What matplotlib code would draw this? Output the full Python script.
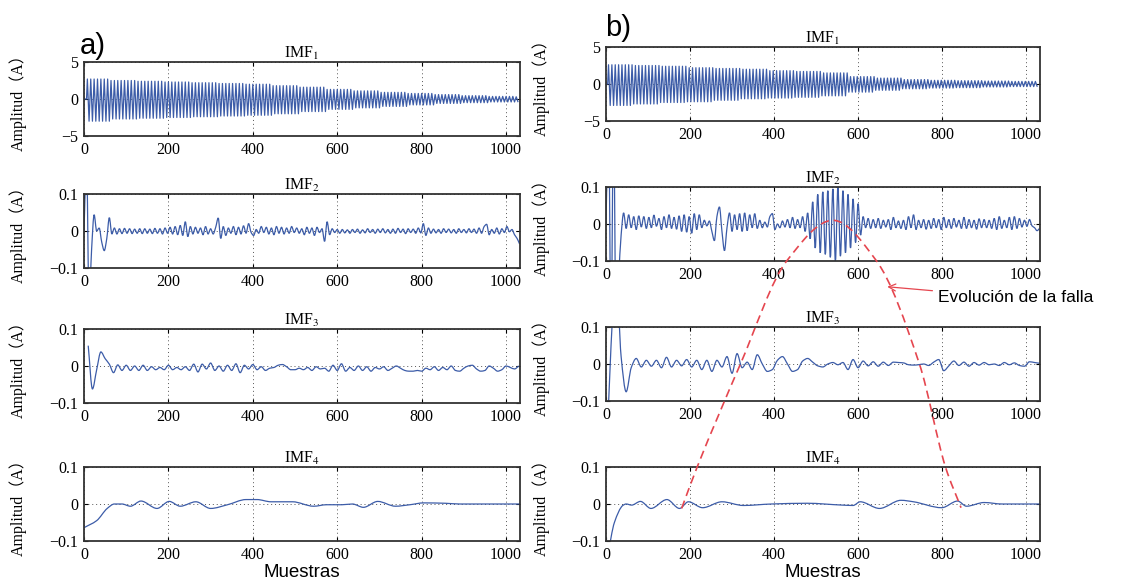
import numpy as np
import matplotlib
matplotlib.use('Agg')
import matplotlib.pyplot as plt
from matplotlib.path import Path
from matplotlib.patches import PathPatch

# ---------------- data ----------------
xticks = [0, 200, 400, 600, 800, 1000]
n_samples = 1033

# IMF1: envelope of the oscillation, one value per block of 64 samples
imf1_a_up = [2.7, 2.5, 2.4, 2.3, 2.2, 2.1, 2.0, 1.8, 1.6, 1.3, 1.1, 0.9, 0.75, 0.6, 0.45, 0.35, 0.3]
imf1_a_lo = [3.0, 2.7, 2.6, 2.5, 2.4, 2.3, 2.2, 2.0, 1.7, 1.4, 1.2, 1.0, 0.8, 0.6, 0.5, 0.4, 0.35]
imf1_b_up = [2.6, 2.5, 2.4, 2.2, 2.1, 2.0, 1.8, 1.7, 1.5, 1.0, 0.8, 0.6, 0.5, 0.45, 0.4, 0.35, 0.3]
imf1_b_lo = [2.9, 2.7, 2.5, 2.4, 2.2, 2.0, 1.9, 1.8, 1.6, 1.1, 0.85, 0.65, 0.55, 0.5, 0.4, 0.35, 0.3]
imf1_half_period = 4
imf1_block = 64

# IMF2: values every 6 samples
imf2_step = 6
imf2_a = [0.0, 0.2, -0.2, -0.05, 0.044, 0.0, 0.008, -0.03, -0.053, -0.02, 0.036, -0.008,
          0.008, -0.008, 0.006, -0.007, 0.007, -0.006, 0.006, -0.007, 0.005, -0.006, 0.006,
          -0.007, 0.006, -0.006, 0.005, -0.007, 0.007, -0.006, 0.006, -0.008, 0.008, -0.006,
          0.010, -0.008, 0.012, -0.010, 0.015, -0.012, 0.025, -0.015, 0.012, -0.008,
          0.010, -0.006, 0.008, -0.010, 0.012, -0.008, 0.006, -0.008, 0.010,
          0.035, -0.02, 0.012, -0.012, 0.008, -0.006, 0.012, -0.01, 0.01, -0.008, 0.014, -0.006, 0.02, -0.004,
          -0.012, 0.004, -0.006, 0.012, -0.004, 0.01, -0.008, 0.008, -0.01, 0.012, -0.006,
          0.01, -0.008, 0.008, -0.006, 0.012, -0.004, 0.008, -0.006, 0.006, -0.01, 0.01, -0.006,
          0.008, -0.012, 0.01, -0.004, 0.006, -0.028,
          0.025, -0.01, 0.006, -0.004, 0.004,
          -0.006, 0.004, -0.005, 0.003, -0.006, 0.004, -0.004, 0.005, -0.006, 0.003, -0.005,
          0.006, -0.004, 0.004, -0.006, 0.005, -0.004, 0.006, -0.005, 0.004, -0.006, 0.005,
          -0.006, 0.007, -0.004, 0.005, -0.007, 0.006, -0.004, 0.005, -0.006, 0.008, -0.005,
          0.02, -0.012, 0.008, -0.006,
          0.005, -0.005, 0.004, -0.006, 0.006, -0.004, 0.005, -0.005, 0.004, -0.006,
          0.006, -0.004, 0.004, -0.005, 0.006, -0.004, 0.005, -0.006, 0.008, -0.006,
          0.012, 0.018, -0.01, 0.004, -0.006, 0.008, -0.008, 0.006, -0.004, 0.012, -0.002,
          0.004, -0.01, -0.02, -0.035]
imf2_b = [0.0, 0.3, -0.3, 0.3, -0.3, -0.15, -0.03, 0.03,
          -0.012, 0.025, -0.01, 0.02, -0.015, 0.022, -0.008, 0.02, -0.012, 0.018, -0.01, 0.024,
          -0.006, 0.015, -0.015, 0.02, -0.01, 0.025, -0.012, 0.018, -0.014, 0.022, -0.02, 0.025,
          -0.022, 0.02, -0.025, 0.028, -0.015, 0.025, -0.01, 0.01, -0.005, 0.008,
          -0.02, -0.045, 0.02, 0.046, -0.02, -0.072, -0.01, 0.03, -0.02, 0.025, -0.015, 0.028,
          -0.02, 0.03, -0.018, 0.025, -0.01, 0.028, -0.012, 0.01, -0.01, 0.005, -0.008, 0.02,
          0.028, -0.015, 0.0, -0.01, 0.008, -0.008, 0.012, -0.01, 0.018, -0.012,
          0.012, -0.01, 0.02, -0.02, 0.03, -0.04, 0.06, -0.065, 0.08, -0.078, 0.087, -0.082,
          0.09, -0.09, 0.095, -0.1, 0.1, -0.087, 0.09, -0.078, 0.08, -0.065, 0.068, -0.05,
          0.055, -0.03, 0.02, -0.01,
          0.015, -0.012, 0.012, -0.01, 0.015, -0.012, 0.01, -0.008, 0.012, -0.015, 0.018, -0.01,
          0.008, -0.012, 0.01, -0.015, 0.02, -0.01, 0.025, -0.015, 0.01, -0.01, 0.012, -0.014,
          0.01, -0.012, 0.015, -0.01, 0.012, -0.015, 0.018, -0.01, 0.012, -0.012, 0.015, -0.008,
          0.01, -0.012, 0.018, -0.012, 0.012, -0.01, 0.01, -0.014, 0.014, -0.01, 0.012, -0.01,
          0.01, -0.012, 0.015, -0.015, 0.02, -0.012, 0.01, -0.01, 0.018, -0.015, 0.02, -0.012,
          0.015, -0.008, 0.01, -0.006, 0.012, -0.005, -0.01, -0.018, -0.012]

# IMF3: values every 10 (a) / 12 (b) samples
imf3_a_start, imf3_a_step = 10, 10
imf3_a = [0.055, -0.062, -0.01, 0.038, 0.02, 0.005, -0.018, 0.003, -0.012, 0.002, -0.012, 0.0,
          -0.012, 0.002, -0.012, -0.002, -0.01, -0.004, -0.01, 0.002, -0.01, -0.004, -0.01,
          -0.002, -0.012, 0.005, -0.016, 0.005, -0.008, 0.008, -0.012, 0.0, -0.014, 0.002,
          -0.012, 0.006, -0.018, 0.002, -0.008, 0.004, -0.01, -0.002, -0.012, -0.006, -0.004,
          0.002, 0.004, -0.002, -0.01, -0.01, -0.006, -0.01, -0.004, -0.012, -0.002, -0.008,
          -0.006, -0.014, 0.002, -0.012, 0.006, -0.014, -0.004, -0.012, 0.0, -0.012, -0.002,
          -0.014, -0.004, -0.008, -0.002, -0.012, -0.006, 0.0, -0.006, -0.012, -0.014, -0.014,
          -0.012, -0.014, -0.006, -0.01, -0.002, -0.012, -0.004, -0.01, 0.0, -0.012, -0.014,
          -0.006, 0.0, 0.002, -0.008, -0.014, -0.012, 0.0, -0.006, -0.014, -0.01, 0.0, -0.004,
          -0.008, 0.0]
imf3_b_start, imf3_b_step = 0, 12
imf3_b = [-0.3, 0.05, 0.25, 0.02, -0.075, -0.01, 0.015, -0.008, 0.01, -0.006, 0.01, -0.01,
          0.018, -0.008, 0.01, -0.005, 0.012, -0.008, 0.01, -0.015, 0.01, -0.02, 0.01, -0.008,
          0.02, -0.025, 0.028, -0.01, 0.005, -0.015, 0.025, 0.0, -0.02, -0.015, 0.01, 0.02,
          0.0, -0.02, -0.015, 0.008, 0.015, 0.005, -0.005, -0.008, 0.0, 0.004, -0.002, 0.004,
          -0.015, 0.012, -0.01, 0.008, -0.005, 0.006, -0.006, 0.005, -0.004, 0.005, 0.004,
          0.003, -0.002, -0.003, -0.002, 0.0, -0.004, 0.005, 0.012, -0.018, -0.005, 0.008,
          -0.004, 0.005, -0.006, 0.004, -0.003, 0.004, -0.002, 0.0, -0.004, 0.004, -0.002,
          0.003, -0.004, -0.006, 0.006, 0.004, 0.002]

# IMF4: turning points (sample, amplitude)
imf4_a_x = [0, 30, 55, 72, 90, 110, 135, 173, 202, 228, 265, 300, 340, 384, 410, 443, 494,
            544, 575, 611, 636, 662, 696, 738, 772, 805, 856, 890, 950, 1000, 1033]
imf4_a_y = [-0.064, -0.045, -0.012, 0.0, 0.0, -0.006, 0.008, -0.012, 0.007, -0.006, 0.006,
            -0.012, -0.002, 0.012, 0.012, 0.006, 0.006, -0.006, -0.002, -0.002, 0.0, -0.009,
            0.007, -0.006, -0.002, 0.003, 0.002, 0.0, 0.0, 0.0, 0.0]
imf4_b_x = [4, 20, 40, 48, 61, 82, 107, 145, 175, 196, 230, 276, 327, 394, 478, 563, 588,
            605, 651, 702, 732, 799, 837, 858, 900, 943, 990, 1033]
imf4_b_y = [-0.14, -0.05, -0.004, 0.0, -0.003, 0.007, -0.012, 0.012, -0.012, 0.006, -0.01,
            0.006, -0.004, 0.0, 0.002, -0.003, -0.004, 0.006, -0.012, 0.01, 0.006, -0.01,
            0.008, -0.006, 0.004, 0.0, 0.0, 0.0]

# fault evolution curve: (panel row of column b, sample, amplitude)
fault_row = [3, 3, 2, 1, 1, 1, 2, 3, 3]
fault_x = [180, 217, 320, 430, 540, 644, 746, 808, 845]
fault_y = [-0.012, 0.1, 0.0, -0.1, 0.01, -0.1, 0.0, 0.1, -0.01]

blue = '#3c5ca8'
red = '#e5464f'

plt.rcParams['font.family'] = ['Liberation Serif', 'Noto Sans CJK SC']
plt.rcParams['mathtext.fontset'] = 'stix'


def smooth_path(xs, ys):
    # cubic Bezier through the given points, monotone tangents
    xs = np.asarray(xs, float)
    ys = np.asarray(ys, float)
    d = np.diff(ys) / np.diff(xs)
    m = np.zeros(len(xs))
    m[0], m[-1] = d[0], d[-1]
    for i in range(1, len(xs) - 1):
        if d[i - 1] * d[i] > 0:
            m[i] = 2.0 / (1.0 / d[i - 1] + 1.0 / d[i])
    verts = [(xs[0], ys[0])]
    codes = [Path.MOVETO]
    for i in range(len(xs) - 1):
        h = xs[i + 1] - xs[i]
        verts += [(xs[i] + h / 3, ys[i] + m[i] * h / 3),
                  (xs[i + 1] - h / 3, ys[i + 1] - m[i + 1] * h / 3),
                  (xs[i + 1], ys[i + 1])]
        codes += [Path.CURVE4] * 3
    return Path(verts, codes)


def imf1_points(up, lo, start):
    k = np.arange((n_samples - start) // imf1_half_period)
    xk = start + imf1_half_period * k
    blk = xk // imf1_block
    yk = np.where(k % 2 == 0, np.take(up, blk), -np.take(lo, blk))
    return np.r_[0, start - 2, xk], np.r_[0, 0, yk]


W, H = 1123, 581
fig = plt.figure(figsize=(W / 100, H / 100), dpi=100)


def add_panel(left, right, top, height):
    return fig.add_axes([left / W, 1 - (top + height) / H, (right - left) / W, height / H])


tops_a = [62, 194, 329, 467]
tops_b = [47, 187, 327, 467]
axes_a = [add_panel(84, 520, t, 74) for t in tops_a]
axes_b = [add_panel(606, 1040, t, 74) for t in tops_b]

# IMF1
x, y = imf1_points(imf1_a_up, imf1_a_lo, 8)
axes_a[0].plot(x, y, color=blue, lw=0.9)
x, y = imf1_points(imf1_b_up, imf1_b_lo, 6)
axes_b[0].plot(x, y, color=blue, lw=0.9)

# IMF2..IMF4
series = [
    (axes_a[1], np.arange(len(imf2_a)) * imf2_step, imf2_a),
    (axes_b[1], np.arange(len(imf2_b)) * imf2_step, imf2_b),
    (axes_a[2], imf3_a_start + np.arange(len(imf3_a)) * imf3_a_step, imf3_a),
    (axes_b[2], imf3_b_start + np.arange(len(imf3_b)) * imf3_b_step, imf3_b),
    (axes_a[3], imf4_a_x, imf4_a_y),
    (axes_b[3], imf4_b_x, imf4_b_y),
]
for ax, sx, sy in series:
    ax.add_patch(PathPatch(smooth_path(sx, sy), fill=False, edgecolor=blue, lw=0.9))

for col in (axes_a, axes_b):
    for i, ax in enumerate(col):
        ax.set_xlim(0, n_samples)
        ax.set_xticks(xticks)
        if i == 0:
            ax.set_ylim(-5, 5)
            ax.set_yticks([-5, 0, 5])
        else:
            ax.set_ylim(-0.1, 0.1)
            ax.set_yticks([-0.1, 0, 0.1])
            ax.set_yticklabels(['\u22120.1', '0', '0.1'])
        ax.grid(True, linestyle=(0, (1, 3)), color='#555555', lw=0.7)
        ax.set_axisbelow(True)
        ax.tick_params(direction='in', top=True, right=True, length=3, width=0.8,
                       labelsize=11.5, pad=4)
        for s in ax.spines.values():
            s.set_linewidth(1.3)
            s.set_color('#333333')
        ax.set_title(r'IMF$_{%d}$' % (i + 1), fontsize=11.5, pad=3)
        ax.set_ylabel('Amplitud（A）', fontsize=11.5)
        ax.yaxis.set_label_coords(-0.13, 0.5)
    col[-1].set_xlabel('Muestras', family=['Liberation Sans'], fontsize=13.5, labelpad=1)

fig.text(80 / W, 1 - 46 / H, 'a)', family=['Liberation Sans'], fontsize=21, va='center')
fig.text(605 / W, 1 - 28 / H, 'b)', family=['Liberation Sans'], fontsize=21, va='center')

# fault evolution dashed curve across the b) panels
pts = np.array([axes_b[r].transData.transform((fx, fy))
                for r, fx, fy in zip(fault_row, fault_x, fault_y)])
pts = fig.transFigure.inverted().transform(pts)
fig.add_artist(PathPatch(smooth_path(pts[:, 0], pts[:, 1]), transform=fig.transFigure,
                         fill=False, edgecolor=red, lw=1.2, linestyle=(0, (5, 3))))
tip = pts[5] + 0.25 * (pts[6] - pts[5])
axes_b[2].annotate('Evolución de la falla', xy=tip, xycoords='figure fraction',
                   xytext=(938 / W, 1 - 298 / H), textcoords='figure fraction',
                   family=['Liberation Sans'], fontsize=12.5, ha='left', va='center',
                   annotation_clip=False,
                   arrowprops=dict(arrowstyle='->', color=red, lw=0.9, shrinkA=2, shrinkB=0))

fig.savefig('out.png', dpi=100)
